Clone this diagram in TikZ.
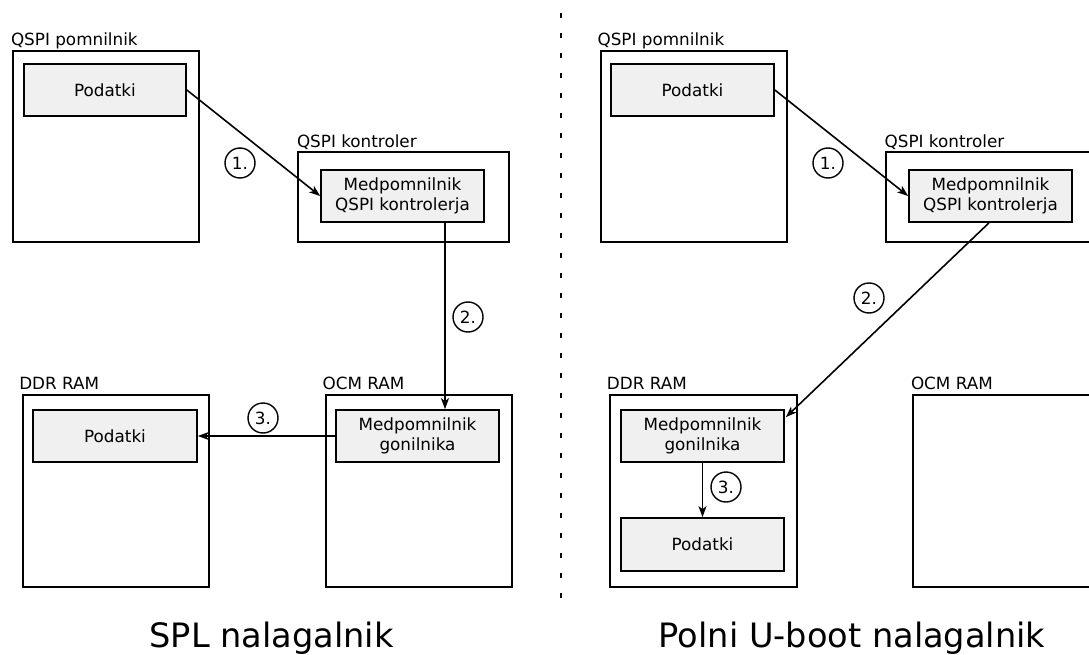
\documentclass[tikz,border=0pt]{standalone}
\usepackage{fontspec}
\setmainfont{DejaVu Sans}
\usetikzlibrary{arrows.meta}
\tikzset{
  x=1pt, y=-1pt,
  every node/.style={font=\fontsize{16.8}{20.5}\selectfont},
  outerbox/.style={draw, line width=2pt, inner sep=0pt},
  bufbox/.style={draw, fill=gray!12, line width=1.7pt, inner sep=0pt, align=center, minimum height=52pt},
  lbl/.style={anchor=base west, inner sep=0pt},
  stepno/.style={circle, draw, line width=1.4pt, minimum size=30pt, inner sep=0pt},
  arr/.style={line width=1.6pt, -{Stealth[length=11pt,width=8pt,inset=3pt]}},
  ttl/.style={anchor=base, inner sep=0pt, font=\fontsize{33.6}{40}\selectfont},
}
\begin{document}
\begin{tikzpicture}
\clip (0,0) rectangle (1089,655);
\fill[white] (0,0) rectangle (1089,655);

% ---------- left panel: SPL ----------
\node[outerbox, minimum width=186pt, minimum height=191pt] (qp) at (106,146.5) {};
\node[lbl] (lqp) at (10.8,45.7) {QSPI pomnilnik};
\node[bufbox, minimum width=162pt] (qpd) at (105,90) {Podatki};

\node[outerbox, minimum width=211pt, minimum height=90pt] (qk) at (403.5,197) {};
\node[lbl] (lqk) at (296.8,147.7) {QSPI kontroler};
\node[bufbox, minimum width=163pt] (qkb) at (402.5,196) {Medpomnilnik\\QSPI kontrolerja};

\node[outerbox, minimum width=186pt, minimum height=192pt] (ddr) at (116,491) {};
\node[lbl] (lddr) at (19.1,389.3) {DDR RAM};
\node[bufbox, minimum width=164pt] (ddrd) at (115,436) {Podatki};

\node[outerbox, minimum width=186pt, minimum height=192pt] (ocm) at (419,491) {};
\node[lbl] (locm) at (322.4,389.3) {OCM RAM};
\node[bufbox, minimum width=163pt] (ocmb) at (417.5,436) {Medpomnilnik\\gonilnika};

\node[stepno] (s1) at (240,163) {1.};
\node[stepno] (s2) at (468,317) {2.};
\node[stepno] (s3) at (263,418) {3.};

\draw[arr] (qpd.east) -- (qkb.west);
\draw[arr] ([xshift=42.5pt]qkb.south) -- ([xshift=27.5pt]ocmb.north);
\draw[arr] (ocmb.west) -- (ddrd.east);

\node[ttl] (t1) at (271.5,647) {SPL nalagalnik};

% ---------- separator ----------
\coordinate (sepa) at (561,13);
\coordinate (sepb) at (561,600);
\draw[line width=1.5pt, dash pattern=on 5pt off 15pt] (sepa) -- (sepb);

% ---------- right panel: U-boot ----------
\node[outerbox, minimum width=186pt, minimum height=191pt] (qp2) at (694,146.5) {};
\node[lbl] (lqp2) at (597.4,45.7) {QSPI pomnilnik};
\node[bufbox, minimum width=163pt] (qpd2) at (692.5,90) {Podatki};

\node[outerbox, minimum width=211pt, minimum height=90pt] (qk2) at (991.5,197) {};
\node[lbl] (lqk2) at (884.4,147.7) {QSPI kontroler};
\node[bufbox, minimum width=163pt] (qkb2) at (990.5,196) {Medpomnilnik\\QSPI kontrolerja};

\node[outerbox, minimum width=187pt, minimum height=192pt] (ddr2) at (703.5,491) {};
\node[lbl] (lddr2) at (606.7,389.3) {DDR RAM};
\node[bufbox, minimum width=163pt] (ddrb2) at (702.5,436) {Medpomnilnik\\gonilnika};
\node[bufbox, minimum width=163pt, minimum height=53pt] (ddrd2) at (702.5,544.5) {Podatki};

\node[outerbox, minimum width=186pt, minimum height=192pt] (ocm2) at (1006,491) {};
\node[lbl] (locm2) at (910.8,389.3) {OCM RAM};

\node[stepno] (r1) at (828,163) {1.};
\node[stepno] (r2) at (869,298) {2.};
\node[stepno] (r3) at (726,487) {3.};

\draw[arr] (qpd2.east) -- (qkb2.west);
\draw[arr] ([xshift=-1.5pt]qkb2.south) -- ([xshift=1pt,yshift=-8pt]ddrb2.north east);
\draw[arr] (ddrb2.south) -- (ddrd2.north);

\node[ttl] (t2) at (852,647) {Polni U-boot nalagalnik};
\end{tikzpicture}
\end{document}
